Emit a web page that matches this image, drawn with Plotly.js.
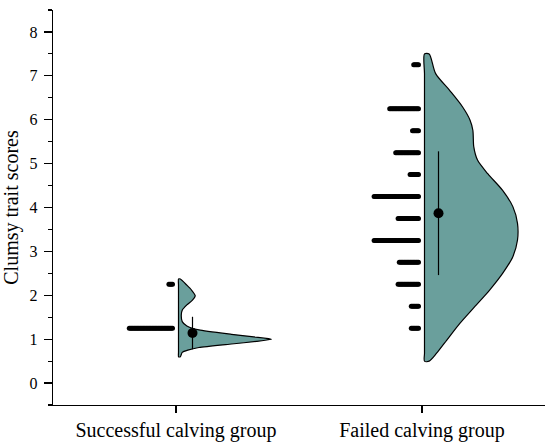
<!DOCTYPE html>
<html>
<head>
<meta charset="utf-8">
<script src="https://cdn.plot.ly/plotly-3.0.1.min.js"></script>
<style>html,body{margin:0;padding:0;background:#fff;}#chart{width:550px;height:448px;}</style>
</head>
<body>
<div id="chart"></div>
<script>
// ---- data ----
const categories = ['Successful calving group', 'Failed calving group'];

// individual observations, grouped by displayed level with their counts
const successLevels = [1.25, 2.25];
const successCounts = [37, 4];
const failedLevels = [1.25, 1.75, 2.25, 2.75, 3.25, 3.75, 4.25, 4.75, 5.25, 5.75, 6.25, 7.25];
const failedCounts = [7, 7, 18, 17, 38, 18, 38, 8, 20, 6, 25, 5];

// half-violin density profiles (relative density, 1 = widest)
const successDensityY = [0.60, 0.70, 0.75, 0.81, 0.89, 0.95, 1.00, 1.05, 1.11, 1.21, 1.30, 1.40, 1.55, 1.66, 1.78, 1.89, 1.99, 2.12, 2.23, 2.37];
const successDensity = [0.02, 0.04, 0.10, 0.22, 0.57, 0.84, 1.00, 0.81, 0.57, 0.22, 0.09, 0.04, 0.03, 0.04, 0.09, 0.15, 0.18, 0.14, 0.09, 0.02];
const failedDensityY = [0.50, 0.68, 0.98, 1.36, 1.74, 2.12, 2.50, 2.88, 3.26, 3.64, 4.02, 4.39, 4.77, 5.08, 5.38, 5.76, 5.99, 6.29, 6.67, 7.05, 7.50];
const failedDensity = [0.05, 0.13, 0.24, 0.38, 0.54, 0.70, 0.84, 0.95, 1.00, 1.00, 0.95, 0.84, 0.68, 0.57, 0.53, 0.52, 0.49, 0.41, 0.27, 0.12, 0.05];

// mean and standard deviation per group
const meanValues = [1.14, 3.87];
const sdValues = [0.37, 1.41];

// ---- layout geometry ----
const W = 550, H = 448;
const M = {l: 53, r: 5, t: 10, b: 43};
const xRange = [-0.5, 1.5];
const yRange = [-0.5, 8.5];
const pxPerX = (W - M.l - M.r) / (xRange[1] - xRange[0]);
const px = p => p / pxPerX;           // pixels -> x data units

const fillColor = '#6a9f9c';
const violinHalfWidth = px(93);
const violinBase = px(2.5);
const dotGap = px(3.5);
const dotStep = px(1.2);
const meanOffset = px(16.5);

function violinTrace(pos, ys, ds, smooth) {
  const base = pos + violinBase;
  const xs = [], yy = [];
  for (let i = 0; i < ys.length; i++) { xs.push(base + ds[i] * violinHalfWidth); yy.push(ys[i]); }
  for (let i = ys.length - 1; i >= 0; i--) { xs.push(base); yy.push(ys[i]); }
  xs.push(xs[0]); yy.push(yy[0]);
  return {
    type: 'scatter', mode: 'lines', x: xs, y: yy,
    fill: 'toself', fillcolor: fillColor,
    line: {color: '#000', width: 1.2, shape: 'spline', smoothing: smooth},
    hoverinfo: 'skip', showlegend: false
  };
}

function dotTrace(pos, levels, counts) {
  const xs = [], ys = [];
  levels.forEach((lv, i) => {
    for (let k = 0; k < counts[i]; k++) { xs.push(pos - dotGap - k * dotStep); ys.push(lv); }
  });
  return {
    type: 'scatter', mode: 'markers', x: xs, y: ys,
    marker: {size: 5, color: '#000', line: {width: 0}},
    hoverinfo: 'skip', showlegend: false
  };
}

const traces = [
  violinTrace(0, successDensityY, successDensity, 0.5),
  violinTrace(1, failedDensityY, failedDensity, 0.8),
  dotTrace(0, successLevels, successCounts),
  dotTrace(1, failedLevels, failedCounts),
  {
    type: 'scatter', mode: 'markers',
    x: [0 + meanOffset, 1 + meanOffset], y: meanValues,
    marker: {size: 10, color: '#000'},
    error_y: {type: 'data', array: sdValues, visible: true, width: 0, thickness: 1.2, color: '#000'},
    hoverinfo: 'skip', showlegend: false
  }
];

const font = {family: '"Liberation Serif", "Times New Roman", serif', color: '#000'};

const layout = {
  width: W, height: H,
  margin: M,
  paper_bgcolor: '#fff', plot_bgcolor: '#fff',
  font: Object.assign({size: 16}, font),
  showlegend: false,
  xaxis: {
    range: xRange, tickvals: [0, 1], ticktext: categories,
    showline: true, linecolor: '#000', linewidth: 1.2,
    ticks: 'outside', ticklen: 7, tickwidth: 1.2, tickcolor: '#000',
    showgrid: false, zeroline: false,
    tickfont: Object.assign({size: 20}, font)
  },
  yaxis: {
    range: yRange, tickvals: [0, 1, 2, 3, 4, 5, 6, 7, 8],
    showline: true, linecolor: '#000', linewidth: 1.2,
    ticks: 'outside', ticklen: 8, tickwidth: 1.2, tickcolor: '#000',
    minor: {dtick: 0.5, tick0: 0, ticks: 'outside', ticklen: 4, tickwidth: 1.2, tickcolor: '#000', showgrid: false},
    showgrid: false, zeroline: false,
    ticklabelstandoff: 3,
    tickfont: Object.assign({size: 16}, font),
    title: {text: 'Clumsy trait scores', font: Object.assign({size: 20}, font), standoff: 8}
  }
};

Plotly.newPlot('chart', traces, layout, {displayModeBar: false, staticPlot: true});
</script>
</body>
</html>
